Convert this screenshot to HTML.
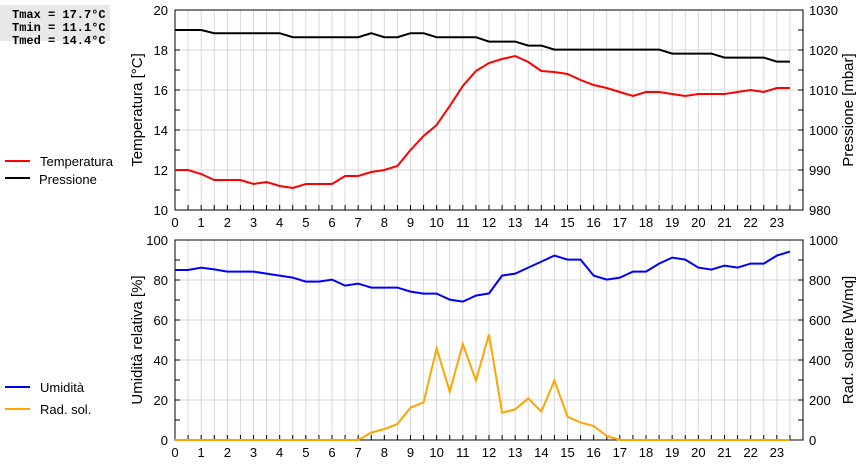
<!DOCTYPE html>
<html><head><meta charset="utf-8"><style>
body{margin:0;background:#fff;width:860px;height:460px;overflow:hidden;font-family:"Liberation Sans",sans-serif}
svg text{font-family:"Liberation Sans",sans-serif}
svg text.mono{font-family:"Liberation Mono",monospace;font-weight:bold}
</style></head><body>
<svg id="c" width="860" height="460" xmlns="http://www.w3.org/2000/svg">
<rect x="0" y="5" width="110" height="36" fill="#e8e8e8"/>
<g font-size="12" fill="#000">
<text class="mono" x="12" y="18">Tmax = 17.7°C</text>
<text class="mono" x="12" y="31">Tmin = 11.1°C</text>
<text class="mono" x="12" y="44">Tmed = 14.4°C</text>
</g>
<g font-size="13">
<line x1="5" y1="161" x2="30" y2="161" stroke="#f00" stroke-width="2"/>
<text x="40" y="166">Temperatura</text>
<line x1="5" y1="178" x2="30" y2="178" stroke="#000" stroke-width="2"/>
<text x="39" y="184">Pressione</text>
</g>
<g font-size="13">
<line x1="5" y1="387" x2="30" y2="387" stroke="#00f" stroke-width="2"/>
<text x="40" y="392">Umidità</text>
<line x1="5" y1="409" x2="30" y2="409" stroke="#ffa500" stroke-width="2"/>
<text x="40" y="414">Rad. sol.</text>
</g>
</svg>
<script>
const hours=[0,0.5,1,1.5,2,2.5,3,3.5,4,4.5,5,5.5,6,6.5,7,7.5,8,8.5,9,9.5,10,10.5,11,11.5,12,12.5,13,13.5,14,14.5,15,15.5,16,16.5,17,17.5,18,18.5,19,19.5,20,20.5,21,21.5,22,22.5,23,23.5];
const temperature=[12.0,12.0,11.8,11.5,11.5,11.5,11.3,11.4,11.2,11.1,11.3,11.3,11.3,11.7,11.7,11.9,12.0,12.2,13.0,13.7,14.25,15.2,16.2,16.95,17.35,17.55,17.7,17.4,16.95,16.9,16.8,16.5,16.25,16.1,15.9,15.7,15.9,15.9,15.8,15.7,15.8,15.8,15.8,15.9,16.0,15.9,16.1,16.1];
const pressure=[1025,1025,1025,1024.2,1024.2,1024.2,1024.2,1024.2,1024.2,1023.2,1023.2,1023.2,1023.2,1023.2,1023.2,1024.2,1023.2,1023.2,1024.2,1024.2,1023.2,1023.2,1023.2,1023.2,1022.1,1022.1,1022.1,1021.1,1021.1,1020.1,1020.1,1020.1,1020.1,1020.1,1020.1,1020.1,1020.1,1020.1,1019.1,1019.1,1019.1,1019.1,1018.1,1018.1,1018.1,1018.1,1017.1,1017.1];
const humidity=[85,85,86.2,85.3,84.2,84.2,84.2,83.2,82.2,81.2,79.2,79.2,80.2,77.2,78.2,76.2,76.2,76.2,74.2,73.2,73.2,70.2,69.2,72.2,73.3,82.2,83.2,86.2,89.2,92.2,90.2,90.2,82.2,80.2,81.2,84.2,84.2,88.2,91.2,90.2,86.2,85.2,87.2,86.2,88.2,88.2,92.2,94.2];
const radiation=[0,0,0,0,0,0,0,0,0,0,0,0,0,0,0,37,55,80,162,188,458,242,480,297,528,137,153,208,142,297,117,87,70,20,0,0,0,0,0,0,0,0,0,0,0,0,0,0];
const xTicks=[0,1,2,3,4,5,6,7,8,9,10,11,12,13,14,15,16,17,18,19,20,21,22,23];
const tempTicks=[10,12,14,16,18,20];
const pressTicks=[980,990,1000,1010,1020,1030];
const humTicks=[0,20,40,60,80,100];
const radTicks=[0,200,400,600,800,1000];

const NS="http://www.w3.org/2000/svg",svg=document.getElementById('c');
const X0=175,X1=803;
const x=h=>X0+(X1-X0)*h/24;
function mk(t,a,p){const e=document.createElementNS(NS,t);for(const k in a)e.setAttribute(k,a[k]);(p||svg).appendChild(e);return e;}
function panel(name,top,bot,lmin,lmax,lt,rmin,rmax,rt,ltitle,rtitle,s1,s1s,c1,s2,s2s,c2){
  const g=mk('g',{});
  
  
  const yl=v=>bot-(bot-top)*(v-lmin)/(lmax-lmin);
  const yr=v=>bot-(bot-top)*(v-rmin)/(rmax-rmin);
  for(let h=0.5;h<24;h+=0.5){const l=mk('line',{x1:x(h),x2:x(h),y1:top,y2:bot,stroke:'#d9d9d9','stroke-width':1},g);
    mk('line',{x1:x(h),x2:x(h),y1:bot,y2:bot-5,stroke:'#000'},g);}
  lt.forEach((v,i)=>{if(i>0&&i<lt.length-1){const l=mk('line',{x1:X0,x2:X1,y1:yl(v),y2:yl(v),stroke:'#d9d9d9'},g);}
    const t=mk('text',{x:X0-7,y:yl(v)+5,'text-anchor':'end','font-size':13},g);t.textContent=v;});
  for(let k=0;k<(lt.length-1)*2;k++){const yy=top+(bot-top)*k/((lt.length-1)*2);mk('line',{x1:X0,x2:X0+5,y1:yy,y2:yy,stroke:'#000'},g);mk('line',{x1:X1,x2:X1-5,y1:yy,y2:yy,stroke:'#000'},g);}
  rt.forEach(v=>{const t=mk('text',{x:X1+6,y:yr(v)+5,'font-size':13},g);t.textContent=v;});
  xTicks.forEach(h=>{const t=mk('text',{x:x(h),y:bot+17,'text-anchor':'middle','font-size':13},g);t.textContent=h;});
  const b=mk('rect',{x:X0,y:top,width:X1-X0,height:bot-top,fill:'none',stroke:'#000'},g);
  
  const cy=(top+bot)/2;
  const a=mk('text',{x:0,y:0,transform:`translate(142,${cy}) rotate(-90)`,'text-anchor':'middle','font-size':15},g);a.textContent=ltitle;
  const r=mk('text',{x:0,y:0,transform:`translate(853,${cy}) rotate(-90)`,'text-anchor':'middle','font-size':15},g);r.textContent=rtitle;
  const p2=mk('polyline',{points:hours.map((h,i)=>x(h)+','+(s2s=='r'?yr(s2[i]):yl(s2[i]))).join(' '),fill:'none',stroke:c2,'stroke-width':2},g);
  
  const p1=mk('polyline',{points:hours.map((h,i)=>x(h)+','+(s1s=='r'?yr(s1[i]):yl(s1[i]))).join(' '),fill:'none',stroke:c1,'stroke-width':2},g);
  
}
panel('temp-pressure-panel',10,210,10,20,tempTicks,980,1030,pressTicks,'Temperatura [°C]','Pressione [mbar]',pressure,'r','#000',temperature,'l','#f00');
panel('humidity-radiation-panel',240,440,0,100,humTicks,0,1000,radTicks,'Umidità relativa [%]','Rad. solare [W/mq]',humidity,'l','#00f',radiation,'r','#ffa500');
</script>
</body></html>
